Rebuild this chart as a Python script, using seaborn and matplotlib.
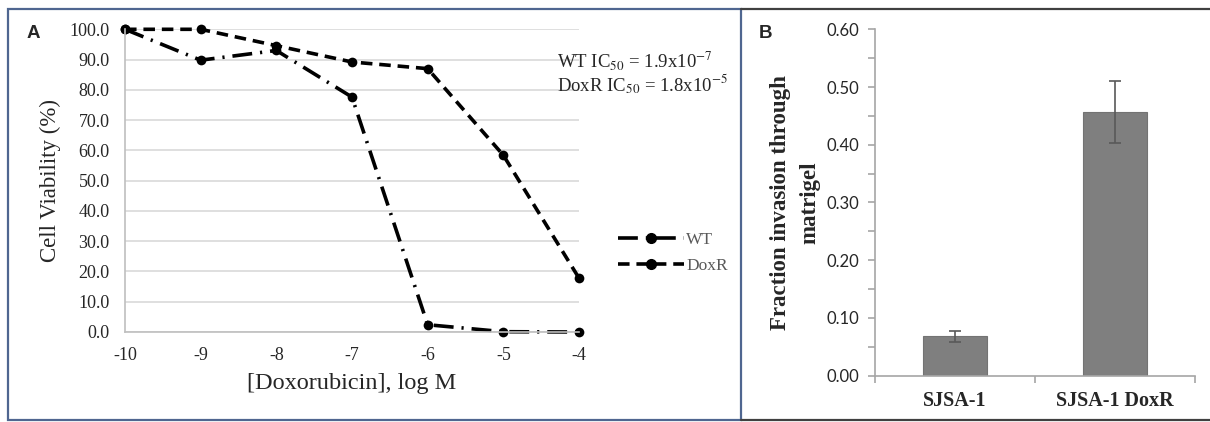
import pandas as pd
import numpy as np
import matplotlib
matplotlib.use("Agg")
import matplotlib.pyplot as plt
from matplotlib.patches import Rectangle
from matplotlib.lines import Line2D
from matplotlib.ticker import MultipleLocator, FixedLocator
import seaborn as sns

# Panel A : viabilite selon la dose
log_dose = [-10, -9, -8, -7, -6, -5, -4]
wt_viability = [100.0, 89.8, 93.0, 77.6, 2.4, 0.1, 0.0]
doxr_viability = [100.0, 100.0, 94.6, 89.2, 87.0, 58.4, 17.8]
ic50_lines = [r"WT IC$_{50}$ = 1.9x10$^{-7}$", r"DoxR IC$_{50}$ = 1.8x10$^{-5}$"]

# Panel B : invasion
cell_lines = ["SJSA-1", "SJSA-1 DoxR"]
invasion = [0.068, 0.457]
invasion_err = [0.010, 0.054]

sns.set_style("white")
plt.rcParams["font.family"] = ["Liberation Serif", "DejaVu Serif"]
plt.rcParams["mathtext.fontset"] = "stix"

W, H = 1210, 422
fig = plt.figure(figsize=(W / 100, H / 100), dpi=100)

def fx(px):
    return px / W

def fy(py):
    return 1 - py / H

# ---- Panel A ----
ax1 = fig.add_axes([fx(125), fy(332), fx(579 - 125), (332 - 29.3) / H])
df = pd.DataFrame({
    "dose": log_dose * 2,
    "viab": wt_viability + doxr_viability,
    "line": ["WT"] * len(log_dose) + ["DoxR"] * len(log_dose),
})
sns.lineplot(data=df, x="dose", y="viab", style="line",
             dashes={"WT": (5.5, 2.2, 0.6, 2.2), "DoxR": (3.2, 1.9)},
             markers={"WT": "o", "DoxR": "o"}, color="black",
             linewidth=2.6, markersize=7, markeredgewidth=0,
             legend=False, ax=ax1, clip_on=False)
ax1.set_xlim(-10, -4)
ax1.set_ylim(0, 100)
ax1.set_xticks(log_dose)
ax1.set_xticklabels([str(d) for d in log_dose])
ax1.yaxis.set_major_locator(MultipleLocator(10))
ax1.yaxis.set_major_formatter(matplotlib.ticker.FormatStrFormatter("%.1f"))
ax1.grid(axis="y", color="#d9d9d9", lw=1.2)
ax1.set_axisbelow(True)
for s in ["top", "right"]:
    ax1.spines[s].set_visible(False)
for s in ["left", "bottom"]:
    ax1.spines[s].set_color("#bfbfbf")
    ax1.spines[s].set_linewidth(1.2)
ax1.tick_params(length=0, labelsize=13, colors="#262626")
ax1.tick_params(axis="y", pad=11)
ax1.tick_params(axis="x", pad=11)
ax1.set_xlabel("[Doxorubicin], log M", fontsize=17.5, color="#262626", labelpad=6)
ax1.set_ylabel("Cell Viability (%)", fontsize=16.5, color="#262626", labelpad=6)

fig.text(fx(557), fy(60), ic50_lines[0], fontsize=13.5, va="center", color="#262626")
fig.text(fx(557), fy(84), ic50_lines[1], fontsize=13.5, va="center", color="#262626")

handles = [
    Line2D([], [], color="black", lw=2.6, dashes=(5.5, 2.2, 0.6, 2.2), marker="o", markersize=7),
    Line2D([], [], color="black", lw=2.6, dashes=(3.2, 1.9), marker="o", markersize=7),
]
leg = fig.legend(handles, ["WT", "DoxR"], loc="upper left",
                 bbox_to_anchor=(fx(602), fy(216)), frameon=False,
                 fontsize=12.5, handlelength=3.8, labelspacing=0.6,
                 handletextpad=0.15)
for t in leg.get_texts():
    t.set_color("#595959")

fig.text(fx(33), fy(33), "A", fontsize=13.5, fontweight="bold",
         family="Liberation Sans", va="center", ha="center")

# ---- Panel B ----
ax2 = fig.add_axes([fx(875), fy(375.7), fx(1195 - 875), (375.7 - 29.3) / H])
sns.barplot(x=cell_lines, y=invasion, color="#7f7f7f", saturation=1,
            width=0.4, errorbar=None, edgecolor="#737373", linewidth=0.8, ax=ax2)
ax2.errorbar(range(len(cell_lines)), invasion, yerr=invasion_err, fmt="none",
             ecolor="#595959", elinewidth=1.2, capsize=4, capthick=1.2)
ax2.set_xlim(-0.5, 1.5)
ax2.set_ylim(0, 0.6)
ax2.yaxis.set_major_locator(MultipleLocator(0.1))
ax2.yaxis.set_minor_locator(MultipleLocator(0.05))
ax2.yaxis.set_major_formatter(matplotlib.ticker.FormatStrFormatter("%.2f"))
ax2.xaxis.set_minor_locator(FixedLocator([-0.5, 0.5, 1.5]))
for s in ["top", "right"]:
    ax2.spines[s].set_visible(False)
for s in ["left", "bottom"]:
    ax2.spines[s].set_color("#a6a6a6")
    ax2.spines[s].set_linewidth(1.2)
ax2.tick_params(axis="y", which="both", direction="out", length=5, width=1.2,
                color="#a6a6a6", left=True, labelsize=12, pad=6)
ax2.tick_params(axis="x", which="major", length=0, pad=11)
ax2.tick_params(axis="x", which="minor", direction="out", length=5, width=1.2,
                color="#a6a6a6", bottom=True)
for lab in ax2.get_yticklabels():
    lab.set_family("Lato")
    lab.set_color("#262626")
for lab in ax2.get_xticklabels():
    lab.set_fontweight("bold")
    lab.set_fontsize(14.5)
ax2.set_ylabel("Fraction invasion through\nmatrigel", fontsize=16.5,
               fontweight="bold", labelpad=5, linespacing=1.5)

fig.text(fx(766), fy(33), "B", fontsize=13.5, fontweight="bold",
         family="Liberation Sans", va="center", ha="center")

# ---- cadres ----
fig.add_artist(Rectangle((fx(8), fy(420)), fx(741 - 8), (420 - 9) / H,
                         transform=fig.transFigure, fill=False,
                         edgecolor="#4f6690", lw=1.6))
fig.add_artist(Line2D([fx(741), fx(1210)], [fy(9), fy(9)],
                      transform=fig.transFigure, color="#404040", lw=1.6))
fig.add_artist(Line2D([fx(741), fx(1210)], [fy(420), fy(420)],
                      transform=fig.transFigure, color="#404040", lw=1.6))

fig.savefig("out.png", dpi=100)
